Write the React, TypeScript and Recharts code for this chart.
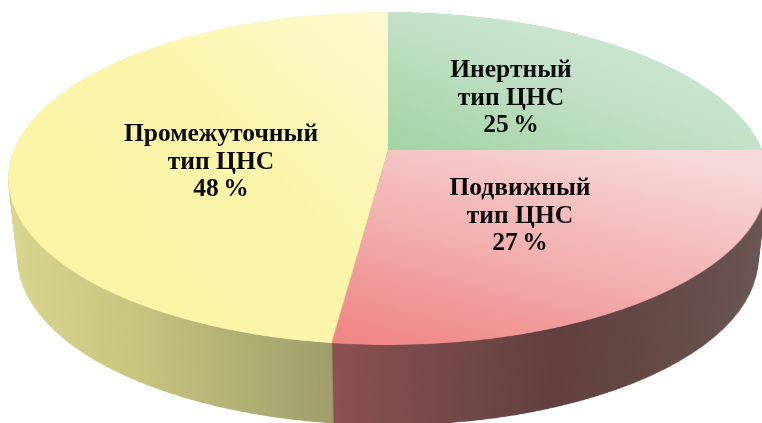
import { PieChart, Pie, Cell } from 'recharts';

const categories = ['Инертный', 'Подвижный', 'Промежуточный'];
const values = [25, 27, 48];
const subtitle = 'тип ЦНС';
const topFills = ['url(#topGreen)', 'url(#topRed)', 'url(#topYellow)'];
const wallFills = ['#a9c9ad', 'url(#wallRed)', 'url(#wallYellow)'];
const labelCenters = [
  { x: 511, y: 96 },
  { x: 520, y: 214 },
  { x: 221, y: 160 },
];

const data = categories.map((name, i) => ({ name, value: values[i] }));

// the flat pie is tilted with a projective transform so it looks like the 3D original
const R = 380;
const SIZE = 2 * R + 4;
const C = SIZE / 2;
const APEX_X = 388;
const APEX_Y = 150;
const SCALE_X = 374;
const SCALE_Y = 161.6;
const PERSPECTIVE = -0.171;
const DEPTH = 80;
const WALL_STEP = 1.5;

const wallOffsets: number[] = [];
for (let d = DEPTH; d > 0; d -= WALL_STEP) wallOffsets.push(d);

function tilt(offset: number) {
  const t = offset / DEPTH;
  const sx = (SCALE_X * (1 - 0.025 * t)) / R;
  const sy = (SCALE_Y * (1 + 0.002 * t)) / R;
  const p = PERSPECTIVE / R;
  return `translate(${APEX_X - C}px, ${APEX_Y + offset - C}px) matrix3d(${sx},0,0,0, 0,${sy},0,${p}, 0,0,1,0, 0,0,0,1)`;
}

function Gradients() {
  return (
    <defs>
      <linearGradient id="topGreen" x1="0" y1="1" x2="1" y2="0">
        <stop offset="0" stopColor="#a1d3a3" />
        <stop offset="0.5" stopColor="#c3e2c8" />
        <stop offset="1" stopColor="#d0e8d8" />
      </linearGradient>
      <linearGradient id="topRed" x1="0.1" y1="1" x2="0.7" y2="0">
        <stop offset="0" stopColor="#f08787" />
        <stop offset="0.45" stopColor="#f3b0b0" />
        <stop offset="1" stopColor="#f6d8d8" />
      </linearGradient>
      <linearGradient id="topYellow" x1="0" y1="1" x2="1" y2="0">
        <stop offset="0" stopColor="#faf4a3" />
        <stop offset="0.55" stopColor="#fbf5ab" />
        <stop offset="1" stopColor="#fdf9d0" />
      </linearGradient>
      <linearGradient id="wallYellow" x1="0" y1="0" x2="1" y2="0">
        <stop offset="0" stopColor="#dad792" />
        <stop offset="0.4" stopColor="#c8c67f" />
        <stop offset="1" stopColor="#949465" />
      </linearGradient>
      <linearGradient id="wallRed" x1="0" y1="0" x2="1" y2="0">
        <stop offset="0" stopColor="#8b5050" />
        <stop offset="0.3" stopColor="#6d4645" />
        <stop offset="0.45" stopColor="#603f3e" />
        <stop offset="1" stopColor="#6a5753" />
      </linearGradient>
    </defs>
  );
}

function Disc({ fills, offset }: { fills: string[]; offset: number }) {
  return (
    <div style={{ position: 'absolute', left: 0, top: 0, width: SIZE, height: SIZE, transformOrigin: `${C}px ${C}px`, transform: tilt(offset) }}>
      <PieChart width={SIZE} height={SIZE} margin={{ top: 0, right: 0, bottom: 0, left: 0 }}>
        <Gradients />
        <Pie
          data={data}
          dataKey="value"
          cx={C}
          cy={C}
          outerRadius={R}
          startAngle={90}
          endAngle={-270}
          stroke="none"
          isAnimationActive={false}
        >
          {data.map((d, i) => (
            <Cell key={d.name} fill={fills[i]} />
          ))}
        </Pie>
      </PieChart>
    </div>
  );
}

export default function App() {
  return (
    <div style={{ position: 'fixed', left: 0, top: 0, width: 762, height: 423, overflow: 'hidden', background: '#fff' }}>
      {wallOffsets.map((d) => (
        <Disc key={d} fills={wallFills} offset={d} />
      ))}
      <Disc fills={topFills} offset={0} />
      {data.map((d, i) => (
        <div
          key={d.name}
          style={{
            position: 'absolute',
            left: labelCenters[i].x - 120,
            top: labelCenters[i].y - 41,
            width: 240,
            textAlign: 'center',
            fontFamily: '"Liberation Serif", serif',
            fontWeight: 700,
            fontSize: 25.5,
            lineHeight: '27.5px',
            color: '#0a0a0a',
            wordSpacing: -2,
          }}
        >
          <div>{d.name}</div>
          <div style={{ wordSpacing: 0 }}>{subtitle}</div>
          <div>{d.value} %</div>
        </div>
      ))}
    </div>
  );
}
